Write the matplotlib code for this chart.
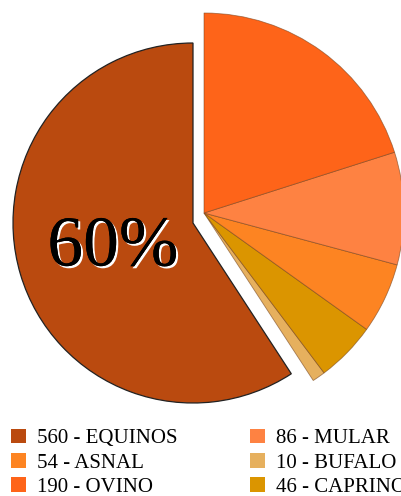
import matplotlib.pyplot as plt
import matplotlib.patheffects as pe
from matplotlib.patches import Patch

# head counts per species
especies = ["EQUINOS", "BUFALO", "CAPRINO", "ASNAL", "MULAR", "OVINO"]
cabezas = [560, 10, 46, 54, 86, 190]
colores = ["#BA4A0F", "#E6B05E", "#DB9500", "#FD8422", "#FE8242", "#FE6419"]
etiqueta_mayor = "60%"

# legend is filled column by column
orden_leyenda = ["EQUINOS", "ASNAL", "OVINO", "MULAR", "BUFALO", "CAPRINO"]

plt.rcParams["font.family"] = ["Liberation Serif", "DejaVu Serif"]

fig = plt.figure(figsize=(4.01, 4.96), dpi=100)
ax = fig.add_axes([0, 0, 1, 1])

# the big slice is pulled out and drawn on its own
grande, _ = ax.pie(cabezas, colors=colores, startangle=90, radius=180,
                   center=(193, 273), frame=True,
                   wedgeprops=dict(edgecolor="#222222", linewidth=0.9))
for w in grande[1:]:
    w.set_visible(False)

resto, _ = ax.pie(cabezas, colors=colores, startangle=90, radius=200,
                  center=(204, 283), frame=True,
                  wedgeprops=dict(edgecolor=(0.45, 0.25, 0.1, 0.6), linewidth=0.6))
resto[0].set_visible(False)

ax.set_xlim(0, 401)
ax.set_ylim(0, 496)
ax.set_aspect("equal")
ax.axis("off")

ax.text(113, 248, etiqueta_mayor, fontsize=51.5, ha="center", va="center",
        color="black",
        path_effects=[pe.withSimplePatchShadow(offset=(1.5, -1.5), shadow_rgbFace="white", alpha=1),
                      pe.Normal()])

handles = []
for nombre in orden_leyenda:
    i = especies.index(nombre)
    handles.append(Patch(facecolor=colores[i], edgecolor="none",
                         label=f"{cabezas[i]} - {nombre}"))

fig.legend(handles=handles, ncol=2, loc="upper left",
           bbox_to_anchor=(0.027, 0.136), frameon=False, fontsize=15,
           handlelength=0.72, handleheight=0.72, handletextpad=0.53,
           labelspacing=0.22, columnspacing=3.5, borderpad=0, borderaxespad=0)

fig.savefig("out.png", dpi=100)
